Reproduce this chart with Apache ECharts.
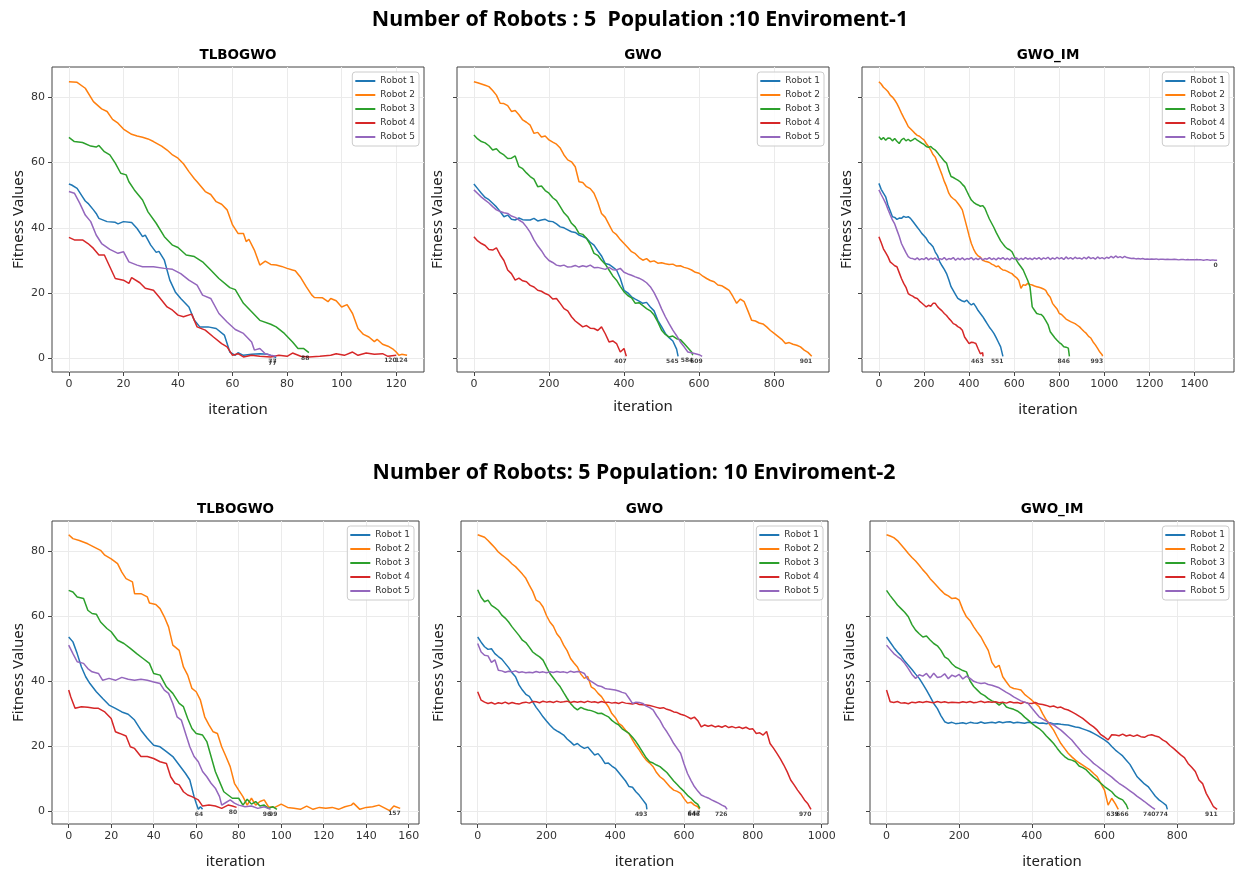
<!DOCTYPE html>
<html>
<head>
<meta charset="utf-8">
<title>Fitness Values</title>
<script src="https://cdn.jsdelivr.net/npm/echarts@6/dist/echarts.min.js"></script>
<style>html,body{margin:0;background:#fff}#main{width:1236px;height:872px}</style>
</head>
<body>
<div id="main"></div>
<script>
var robots = ['Robot 1', 'Robot 2', 'Robot 3', 'Robot 4', 'Robot 5'];
var colors = ['#1f77b4', '#ff7f0e', '#2ca02c', '#d62728', '#9467bd'];
var yTicks = [0, 20, 40, 60, 80];

// Enviroment-1 / TLBOGWO  [iteration, fitness]
var e1TlboR1 = [[0,53.4],[1,53.1],[3,52.1],[5,49.5],[6,48.2],[7,47.5],[9,45.5],[10,44.4],[11,42.9],[14,41.9],[17,41.7],[18,41.2],[20,41.9],[23,41.6],[25,39.8],[27,37.3],[28,37.8],[30,34.7],[32,32.5],[33,32.8],[35,30.1],[37,24],[39,20.4],[41,18.4],[44,15.8],[46,11.7],[48,9.7],[51,9.7],[54,9.2],[57,7.2],[59,2],[61,1],[62,1.8],[64,1],[67,1.3],[70,1.5],[73,1.3],[76,0.3]];
var e1TlboR2 = [[0,84.7],[3,84.5],[6,82.7],[9,78.6],[12,76.4],[14,75.6],[16,73.2],[18,72],[20,70.2],[23,68.6],[25,68.1],[27,67.7],[29,67.2],[31,66.4],[34,65],[36,63.8],[38,62.3],[40,61.3],[42,59.6],[44,57.2],[46,55],[47,54.1],[50,51.1],[52,50.2],[54,48],[56,47.2],[58,45.5],[60,40.9],[62,38.3],[64,38.3],[65,35.8],[66,36.5],[68,33.2],[70,28.6],[72,29.8],[74,28.8],[76,28.6],[78,28.2],[80,27.6],[82,27.1],[83,26.9],[85,24.8],[87,22],[89,19.5],[90,18.7],[93,18.6],[95,17.4],[96,18.4],[98,17.7],[100,15.8],[102,16.5],[104,13.8],[106,9.2],[108,7.4],[110,6.6],[112,5.2],[113,5.9],[115,4.4],[117,3.8],[119,2.8],[120,2],[121,1],[122,1.3],[124,1]];
var e1TlboR3 = [[0,67.7],[2,66.4],[5,66.1],[8,65],[10,64.7],[11,65.2],[13,63.3],[15,62.3],[17,59.8],[19,56.7],[21,56.2],[22,54.1],[24,51.6],[27,48.5],[29,44.9],[32,41.4],[35,37.3],[38,34.7],[40,34],[43,31.7],[46,31.2],[49,29.6],[52,27.1],[55,24.5],[59,21.7],[61,21.1],[64,16.9],[67,14.3],[70,11.7],[74,10.5],[76,9.7],[79,7.7],[82,5.1],[84,3.1],[86,3.1],[88,1.8]];
var e1TlboR4 = [[0,37.1],[2,36.3],[5,36.3],[7,35.2],[9,33.7],[11,31.7],[13,31.7],[15,28.1],[17,24.5],[20,24],[22,23],[23,24.8],[26,23.2],[28,21.5],[31,20.9],[33,18.9],[36,15.8],[38,14.8],[40,13.3],[42,12.8],[45,13.6],[47,9.7],[50,8.7],[53,6.6],[56,4.6],[58,3.6],[60,1],[62,1.5],[64,0.5],[67,1],[70,0.7],[74,0.5],[77,1],[80,0.7],[82,1.7],[85,0.7],[88,0.5],[92,0.7],[96,1],[98,1.5],[101,1],[104,2],[106,1],[109,1.7],[112,1.3],[115,1.5],[117,0.7],[120,1]];
var e1TlboR5 = [[0,51.1],[2,50.6],[4,47.5],[6,43.9],[8,41.9],[10,37.8],[12,35.2],[15,33.4],[18,32.2],[20,32.7],[22,29.6],[25,28.6],[27,28.1],[31,28.1],[35,27.6],[38,27.3],[41,26],[44,24],[47,22.5],[49,19.4],[52,18.4],[55,13.8],[58,11.2],[61,8.9],[64,7.7],[67,5.1],[68,2.6],[70,3.1],[72,1.5],[74,1],[76,0.7]];
var e1TlboEnds = [77, 124, 88, 120, 77];

// Enviroment-1 / GWO  (fitness every 10 iterations, last value at the last iteration)
var e1GwoR1 = [53.4,52.0,50.6,49.3,48.6,47.5,46.4,45.0,43.4,43.9, 42.6,42.4,43.0,42.5,42.4,42.4,42.9,42.1,42.4,42.6, 42.0,41.9,41.2,40.3,40.0,39.4,38.8,38.6,37.8,37.3, 36.8,35.6,34.7,33.0,31.4,29.1,28.8,28.0,27.1,24.5, 20.9,20.1,18.9,18.2,17.6,16.9,17.2,15.8,14.6,11.7, 9.8,7.7,6.4,5.4,2.9,0.7];
var e1GwoR2 = [84.7,84.4,84.0,83.6,83.2,82.0,80.6,78.1,78.0,77.4, 75.6,75.9,74.6,73.0,72.3,71.4,68.9,69.2,67.8,68.1, 66.9,66.2,65.6,64.4,62.3,60.8,60.2,58.7,54.1,53.9, 52.6,52.0,50.6,47.8,44.4,43.2,41.0,38.8,37.9,36.4, 35.2,34.0,32.7,32.1,30.9,30.1,30.6,29.6,29.9,29.2, 29.3,29.0,28.8,28.9,28.3,28.4,27.9,27.6,27.1,26.4, 26.1,25.2,24.5,23.9,23.5,22.5,22.3,21.6,20.9,19.0, 16.9,18.2,17.4,14.6,11.7,11.5,10.9,10.6,9.7,8.6, 7.7,6.8,5.9,4.6,4.9,4.4,4.1,3.6,2.6,1.9, 0.7];
var e1GwoR3 = [68.4,67.2,66.4,66.0,65.1,63.8,64.2,63.0,62.3,61.2, 61.3,62.0,58.7,58.1,56.8,55.7,54.9,52.6,52.8,51.4, 50.6,49.2,48.3,46.5,44.6,43.4,41.4,40.3,38.3,38.0, 36.8,34.9,32.2,31.6,30.1,28.9,27.1,25.3,24.0,22.1, 20.4,19.3,18.6,16.9,17.1,16.2,15.3,14.6,13.3,11.2, 8.7,7.4,6.6,6.9,6.1,5.8,4.6,3.3,2.0,1.0];
var e1GwoR4 = [37.3,36.0,35.2,34.6,33.4,33.2,33.9,31.7,30.0,27.1, 26.0,24.0,24.6,23.8,23.5,22.4,21.9,20.9,20.6,19.9, 19.4,18.2,18.4,16.9,15.3,14.6,12.8,11.5,10.6,9.7, 10.1,9.3,9.2,8.6,9.7,7.6,5.1,5.4,4.6,2.0, 3.1,0.7];
var e1GwoR5 = [51.6,50.5,49.4,48.5,47.6,46.5,45.5,45.0,44.6,44.4, 43.6,43.2,42.4,41.7,40.3,38.6,36.3,34.5,33.0,31.2, 30.0,29.4,28.6,28.3,28.6,28.0,28.1,28.5,28.0,28.4, 28.1,28.6,27.8,27.9,27.6,27.3,27.9,27.2,27.1,27.6, 26.4,25.9,25.5,25.0,24.6,24.0,23.2,22.0,20.2,17.9, 15.2,12.8,10.7,8.7,7.0,5.1,3.6,2.0,1.8,1.5, 1.2,0.7];
var e1GwoLast = [544, 900, 583, 406, 608];
var e1GwoEnds = [545, 901, 584, 407, 609];

// Enviroment-1 / GWO_IM
var e1ImR1 = [53.6,51.8,50.6,49.5,47.0,45.2,43.4,43.2,42.6,43.0, 42.9,43.5,43.2,43.4,42.9,42.0,41.1,40.2,39.3,38.3, 37.6,36.8,35.6,35.0,34.2,32.6,31.5,29.6,28.4,27.3, 26.0,24.1,22.0,20.8,19.6,18.4,18.0,17.6,17.4,17.9, 17.0,16.4,16.9,15.9,14.7,13.8,12.9,11.8,10.7,9.6, 8.7,7.7,6.4,5.0,3.6,0.7];
var e1ImR2 = [84.7,84.0,83.0,82.4,81.7,80.6,80.0,79.1,78.0,76.6, 75.1,73.7,72.4,71.0,70.3,69.6,68.9,68.3,68.0,67.4, 66.9,65.8,64.9,63.8,62.4,61.6,59.8,58.0,56.2,54.2, 52.6,50.6,49.5,48.9,48.4,47.5,46.6,45.5,42.9,40.3, 37.6,35.2,33.5,32.2,31.4,31.0,30.1,29.8,29.6,29.4, 28.9,28.6,28.1,28.3,27.6,27.1,27.0,26.7,26.3,26.0, 25.3,24.8,24.0,21.5,22.6,22.4,23.0,22.7,22.5,22.2, 22.0,21.8,21.6,21.3,20.9,19.6,18.8,16.9,16.0,15.2, 13.8,13.5,12.8,12.1,11.7,11.3,11.0,10.7,10.2,9.7, 9.0,8.3,7.7,6.8,6.3,5.1,4.2,3.1,2.0,1.2, 0.7];
var e1ImR3 = [67.9,67.0,67.6,66.8,67.5,67.4,66.6,67.3,66.5,65.8, 66.9,67.4,66.6,67.1,66.5,66.9,67.4,66.8,66.4,65.9, 65.5,64.9,64.6,64.9,64.2,63.8,63.0,62.1,61.3,60.4, 59.8,57.5,55.7,55.4,55.0,54.6,54.1,53.3,52.6,51.2, 49.8,48.5,47.8,47.3,47.0,46.6,46.8,46.0,44.3,42.7, 41.4,40.1,38.6,37.3,36.0,35.1,34.2,33.6,33.3,32.7, 31.3,30.1,29.0,28.1,27.1,25.5,23.9,22.0,15.8,14.8, 13.8,13.6,13.5,12.8,11.6,10.4,8.2,7.3,6.4,5.6, 4.9,4.4,3.6,3.5,3.2,0.7];
var e1ImR4 = [37.3,35.5,33.6,32.4,31.2,29.6,29.0,28.4,28.1,26.3, 24.5,23.0,21.8,19.9,19.4,19.1,18.6,18.4,17.6,17.0, 16.4,15.8,16.3,16.0,16.9,16.9,15.9,15.2,14.6,13.8, 13.2,12.3,11.6,10.7,10.4,9.8,9.4,8.7,6.6,5.6, 4.6,5.0,4.9,4.6,3.0,1.5,1.8,0.7];
var e1ImR5 = [51.6,50.2,48.9,47.5,45.7,44.0,42.4,41.2,39.3,37.4, 35.2,33.8,32.4,31.2,30.7,30.6,30.3,30.8,30.2,30.6, 30.3,30.9,30.2,30.7,30.4,30.8,30.1,30.6,30.3,30.9, 30.2,30.6,30.4,30.9,30.1,30.7,30.3,30.8,30.2,30.6, 30.4,30.9,30.2,30.7,30.3,30.8,30.2,30.6,30.4,30.9, 30.3,30.7,30.2,30.8,30.4,30.9,30.3,30.7,30.2,30.8, 30.4,30.8,30.2,30.7,30.3,30.9,30.4,30.7,30.3,30.8, 30.4,30.9,30.3,30.8,30.5,31.0,30.3,30.8,30.4,31.0, 30.5,30.9,30.3,31.1,30.5,30.9,30.4,31.0,30.6,30.8, 30.4,31.0,30.5,31.1,30.6,30.9,30.4,31.1,30.6,30.9, 30.5,31.0,30.7,31.3,30.8,31.4,30.9,31.2,30.8,31.3, 30.9,30.8,30.6,30.7,30.5,30.6,30.5,30.6,30.4,30.5, 30.4,30.5,30.4,30.5,30.3,30.4,30.4,30.3,30.4,30.3, 30.3,30.4,30.3,30.2,30.3,30.3,30.2,30.3,30.2,30.2, 30.2,30.3,30.2,30.2,30.1,30.2,30.2,30.1,30.2,30.1, 30.1];
var e1ImLast = [550, 992, 845, 462, 1500];
var e1ImEnds = [551, 993, 846, 463, 0];

// Enviroment-2 / TLBOGWO  [iteration, fitness]
var e2TlboR1 = [[0,53.6],[2,52.1],[4,48.5],[6,44.4],[8,41.4],[10,39.3],[13,36.8],[16,34.7],[19,32.7],[22,31.7],[25,30.6],[28,29.9],[31,28.1],[34,25],[37,22.5],[40,20.4],[43,19.9],[46,18.4],[49,16.9],[52,14.3],[55,11.7],[57,9.7],[59,4.6],[60,2.6],[61,0.7],[62,1.5],[63,0.7]];
var e2TlboR2 = [[0,85],[2,83.8],[5,83.2],[9,82.2],[12,81.2],[15,80.2],[17,78.7],[20,77.6],[23,76.1],[25,73.5],[27,71.5],[30,70.5],[31,66.9],[34,66.9],[37,65.9],[38,64],[41,63.6],[43,62.3],[45,59.8],[47,56.7],[49,51.1],[52,49.5],[54,44.4],[56,41.9],[58,37.8],[60,36.8],[62,34.2],[64,29.1],[66,26.6],[68,24.5],[70,24],[72,19.9],[74,16.9],[76,13.8],[78,8.7],[80,6.6],[82,4.6],[84,2],[86,4.1],[88,2],[90,3.1],[92,3.6],[94,1.5],[97,1.3],[100,2.3],[103,1.3],[106,1],[109,0.7],[112,1.7],[115,0.7],[118,1.3],[121,1],[124,1.3],[127,0.7],[130,1.5],[133,2],[134,2.6],[137,0.7],[140,1.3],[143,1.5],[146,2],[149,1],[151,0.3],[153,1.7],[156,1]];
var e2TlboR3 = [[0,67.9],[2,67.4],[4,65.9],[7,65.4],[9,61.8],[11,60.8],[13,60.6],[15,58.2],[18,56.2],[20,55.2],[23,52.6],[26,51.6],[29,50.1],[32,48.5],[35,47],[38,45.5],[40,42.4],[43,41.9],[46,38.3],[49,36.3],[52,33.2],[54,32.2],[56,28.6],[58,25.5],[60,24],[63,23.5],[65,21.5],[67,16.9],[69,12.3],[71,9.2],[73,6.1],[75,5.1],[77,4.1],[80,4.1],[82,2],[84,3.8],[86,2.3],[88,3.1],[90,1.7],[92,2],[94,1],[96,1.5],[98,0.7]];
var e2TlboR4 = [[0,37.3],[1,35.2],[3,31.7],[6,32.2],[9,32],[12,31.7],[14,31.7],[17,30.6],[20,28.6],[22,24.5],[24,24],[27,23.2],[29,19.9],[31,19.4],[34,16.9],[37,16.9],[40,16.3],[43,15.3],[46,14.8],[48,10.7],[50,8.7],[52,8.2],[54,6.1],[56,5.1],[58,4.6],[61,3.6],[63,1.7],[66,2],[69,1.7],[72,1],[75,2],[77,1.7],[79,1.3]];
var e2TlboR5 = [[0,51.1],[2,48.5],[4,46],[7,45.5],[9,43.9],[11,42.9],[14,42.4],[16,40.3],[19,40.9],[22,40.3],[25,41.2],[28,40.6],[31,40.3],[34,40.6],[37,40.3],[40,39.8],[43,39.3],[45,37.3],[47,36.3],[49,33.2],[51,29.1],[53,28.1],[55,24],[57,19.9],[59,16.9],[61,15.3],[63,12.3],[65,10.7],[67,8.7],[69,7.2],[71,4.6],[72,2],[74,2.8],[76,3.6],[78,2.6],[80,2],[83,1.5],[86,1.7],[89,1],[92,1.5],[95,0.7]];
var e2TlboEnds = [64, 157, 99, 80, 96];

// Enviroment-2 / GWO  (fitness every 10 iterations, last value at the last iteration)
var e2GwoR1 = [53.6,52.0,50.6,49.8,50.0,48.5,47.6,46.8,45.5,44.2, 42.6,41.4,38.9,37.3,36.0,35.4,33.7,32.0,30.6,29.1, 27.8,26.6,25.5,24.8,24.2,23.5,22.3,21.4,20.4,20.9, 20.0,19.4,19.8,18.6,17.4,17.8,16.5,14.8,14.9,14.0, 13.3,12.0,10.7,9.4,7.7,7.5,6.1,5.0,3.6,2.2, 0.7];
var e2GwoR2 = [85.0,84.6,84.2,83.2,82.1,81.0,79.7,78.8,78.0,77.1, 76.0,75.2,74.1,72.9,71.6,69.5,67.6,64.9,64.3,62.8, 60.2,58.2,56.9,54.6,53.3,51.1,49.4,47.0,45.6,44.4, 42.2,40.9,41.5,38.3,37.6,36.3,35.3,33.7,32.2,30.1, 28.9,27.1,26.3,25.0,23.9,22.0,20.3,18.9,17.2,15.8, 14.9,13.8,12.0,10.7,9.9,8.7,7.5,6.6,6.2,5.6, 4.0,2.6,2.9,2.0,1.5,0.7];
var e2GwoR3 = [68.1,65.8,64.4,64.9,63.3,62.6,61.8,60.3,59.4,58.2, 56.7,55.4,54.1,52.6,51.9,50.5,49.0,48.2,47.5,46.5, 44.4,42.4,41.0,39.6,38.3,36.5,34.8,33.2,32.0,31.2, 32.0,31.5,31.2,31.0,30.6,30.1,30.2,29.6,29.1,28.0, 27.2,26.6,25.4,24.7,24.0,22.8,21.5,19.9,18.2,16.5, 15.3,14.9,14.3,13.8,12.9,12.0,10.7,9.4,8.3,7.2, 6.2,5.0,4.1,3.0,2.2,1.0];
var e2GwoR4 = [36.8,34.2,33.6,33.2,33.5,33.0,33.4,33.2,33.6,33.1, 33.5,33.2,33.0,33.4,33.6,33.3,33.8,33.7,33.4,33.9, 33.6,33.8,33.5,33.9,33.6,33.7,33.9,33.5,33.8,33.6, 33.8,33.5,33.9,33.6,33.7,33.4,33.8,33.5,33.6,33.3, 33.5,33.2,33.6,33.3,33.2,33.0,33.3,32.9,32.8,32.7, 32.6,32.3,32.0,31.7,31.9,31.4,31.1,30.6,30.4,29.9, 29.6,29.1,28.5,29.0,27.9,26.0,26.6,26.2,26.5,26.0, 26.3,25.9,26.4,25.8,26.1,25.7,26.0,25.5,25.9,25.3, 25.4,24.0,24.2,23.5,24.6,20.9,19.5,17.9,16.2,14.3, 12.2,9.7,8.2,6.6,5.2,3.6,2.4,0.7];
var e2GwoR5 = [51.6,49.0,48.0,47.8,45.8,46.6,43.4,43.2,42.8,43.1, 42.9,43.2,42.7,42.9,42.6,42.8,42.6,43.0,42.7,42.9, 42.6,42.9,42.7,43.0,42.8,42.9,42.6,43.1,42.8,43.0, 42.9,42.4,40.6,40.0,39.3,38.6,38.4,37.8,37.6,37.5, 37.3,37.0,36.6,36.3,34.8,33.2,33.6,33.5,33.2,32.4, 31.9,31.2,29.5,28.0,26.0,24.5,22.8,20.9,19.4,17.9, 14.6,11.7,9.6,7.7,6.3,5.1,4.6,4.2,3.6,3.1, 2.6,2.0,1.5,0.7];
var e2GwoLast = [492, 645, 646, 969, 725];
var e2GwoEnds = [493, 646, 647, 970, 726];

// Enviroment-2 / GWO_IM
var e2ImR1 = [53.6,52.0,50.4,49.0,47.8,46.2,44.9,43.6,42.2,40.9, 39.1,37.3,35.3,33.2,31.6,29.4,27.6,27.1,27.4,27.0, 27.1,27.3,27.0,27.4,27.2,27.1,27.5,27.1,27.3,27.4, 27.2,27.6,27.3,27.5,27.6,27.2,27.4,27.3,27.1,27.4, 27.3,27.4,27.1,27.2,27.0,27.3,26.9,27.0,26.8,26.7, 26.6,26.3,26.0,25.8,25.4,25.0,24.6,24.0,23.4,22.7, 22.0,21.2,20.0,18.9,18.0,17.1,15.8,14.5,12.6,10.7, 9.6,8.5,7.7,6.2,4.7,3.6,2.8,1.9,0.7];
var e2ImR2 = [85.0,84.6,84.1,83.2,81.9,80.6,79.2,78.0,76.9,75.6, 74.2,73.0,71.5,70.3,69.1,67.9,66.8,66.2,65.4,65.6, 64.9,62.0,59.8,58.6,56.7,55.1,53.6,51.5,49.5,45.8, 44.2,44.9,41.4,39.8,38.3,37.8,37.6,37.3,36.0,35.1, 34.2,33.2,32.2,30.0,28.1,26.6,25.0,22.9,20.9,19.4, 17.9,16.8,15.8,15.0,14.3,13.5,12.8,11.7,10.7,8.6, 6.6,2.0,4.1,2.4,0.7];
var e2ImR3 = [67.9,66.3,64.9,63.4,62.3,61.2,59.8,57.4,55.7,54.6, 53.6,53.9,52.7,51.6,50.9,49.5,47.5,46.8,45.4,44.4, 43.9,43.3,42.9,40.1,38.4,37.3,36.2,35.6,34.7,34.0, 33.6,32.7,33.5,32.1,31.7,31.4,30.9,30.1,29.0,28.1, 27.1,26.2,25.5,24.5,23.2,22.1,20.9,19.4,18.0,16.9, 16.1,15.8,15.3,14.0,13.5,12.8,11.6,10.6,9.7,8.7, 7.7,6.9,6.1,4.8,4.1,3.6,2.1,0.7];
var e2ImR4 = [37.3,33.7,33.5,33.8,33.3,33.4,33.1,33.6,33.4,33.7, 33.5,33.8,33.6,33.4,33.8,33.5,33.7,33.4,33.6,33.5, 33.4,33.7,33.5,33.8,33.4,33.6,33.9,33.5,33.7,33.6, 33.7,33.4,33.6,33.3,33.7,33.4,33.5,33.2,33.6,33.3, 33.2,33.5,33.0,32.9,32.6,32.2,32.4,31.9,32.1,31.5, 31.2,30.6,30.0,29.3,28.6,27.7,26.8,26.0,25.0,23.6, 22.9,22.0,23.6,23.5,23.3,23.8,23.2,23.5,23.1,23.5, 23.0,22.8,23.4,23.6,23.2,22.9,22.0,21.4,20.3,19.4, 18.4,17.4,16.6,14.8,13.6,12.3,9.7,8.6,5.6,3.6, 1.5,0.7];
var e2ImR5 = [51.1,49.8,48.5,47.6,46.8,45.5,43.9,42.1,40.9,42.0, 41.6,42.4,41.0,42.5,41.2,41.4,42.3,40.8,41.9,41.4, 42.1,40.7,41.6,40.9,40.0,39.6,39.3,39.5,39.0,38.8, 38.4,38.0,37.3,36.6,36.0,35.2,34.6,34.0,33.6,33.2, 31.8,30.4,29.1,28.4,27.8,27.1,26.6,25.8,25.0,24.0, 23.0,22.0,20.6,19.3,17.9,16.9,15.9,14.8,14.0,13.1, 12.3,11.4,10.6,9.6,8.7,8.0,7.2,6.4,5.6,4.7, 3.9,3.1,2.2,1.4,0.7];
var e2ImLast = [773, 638, 665, 910, 739];
var e2ImEnds = [774, 639, 666, 911, 740];

// y values sampled every `step` iterations -> [iteration, fitness] pairs
function stepped(ys, last, step) {
  return ys.map(function (y, i) {
    return [i === ys.length - 1 ? last : i * step, y];
  });
}
function panelLines(list, lastList) {
  return list.map(function (d, i) {
    return lastList ? stepped(d, lastList[i], 10) : d;
  });
}

var panels = [
  {title: 'TLBOGWO', left: 52, top: 67, width: 372, height: 305, xMin: -6.2, xMax: 130.2, xTicks: [0, 20, 40, 60, 80, 100, 120], yMin: -4.1, yMax: 89.2, yLabels: true, yGap: 26, xGap: 30,
   lines: panelLines([e1TlboR1, e1TlboR2, e1TlboR3, e1TlboR4, e1TlboR5]), ends: e1TlboEnds},
  {title: 'GWO', left: 457, top: 67, width: 372, height: 305, xMin: -45, xMax: 946, xTicks: [0, 200, 400, 600, 800], yMin: -4.1, yMax: 89.2, yLabels: false, yGap: 12, xGap: 27,
   lines: panelLines([e1GwoR1, e1GwoR2, e1GwoR3, e1GwoR4, e1GwoR5], e1GwoLast), ends: e1GwoEnds},
  {title: 'GWO_IM', left: 862, top: 67, width: 372, height: 305, xMin: -75, xMax: 1575, xTicks: [0, 200, 400, 600, 800, 1000, 1200, 1400], yMin: -4.1, yMax: 89.2, yLabels: false, yGap: 8, xGap: 30,
   lines: panelLines([e1ImR1, e1ImR2, e1ImR3, e1ImR4, e1ImR5], e1ImLast), ends: e1ImEnds},
  {title: 'TLBOGWO', left: 52, top: 521, width: 367, height: 303, xMin: -7.85, xMax: 164.85, xTicks: [0, 20, 40, 60, 80, 100, 120, 140, 160], yMin: -3.8, yMax: 89.2, yLabels: true, yGap: 26, xGap: 30,
   lines: panelLines([e2TlboR1, e2TlboR2, e2TlboR3, e2TlboR4, e2TlboR5]), ends: e2TlboEnds},
  {title: 'GWO', left: 461, top: 521, width: 367, height: 303, xMin: -48.5, xMax: 1018.5, xTicks: [0, 200, 400, 600, 800, 1000], yMin: -3.8, yMax: 89.2, yLabels: false, yGap: 15, xGap: 30,
   lines: panelLines([e2GwoR1, e2GwoR2, e2GwoR3, e2GwoR4, e2GwoR5], e2GwoLast), ends: e2GwoEnds},
  {title: 'GWO_IM', left: 870, top: 521, width: 364, height: 303, xMin: -45.5, xMax: 956.5, xTicks: [0, 200, 400, 600, 800], yMin: -3.8, yMax: 89.2, yLabels: false, yGap: 13, xGap: 30,
   lines: panelLines([e2ImR1, e2ImR2, e2ImR3, e2ImR4, e2ImR5], e2ImLast), ends: e2ImEnds}
];

var chart = echarts.init(document.getElementById('main'));
var W = 1236;
var tickFont = 'DejaVu Sans';
var option = {
  animation: false,
  backgroundColor: '#ffffff',
  title: [
    {text: 'Number of Robots : 5  Population :10 Enviroment-1', left: 640, top: 9, textAlign: 'center', padding: 0,
     textStyle: {fontFamily: 'Noto Sans', fontWeight: 'bold', fontSize: 21.4, color: '#000'}},
    {text: 'Number of Robots: 5 Population: 10 Enviroment-2', left: 634, top: 462, textAlign: 'center', padding: 0,
     textStyle: {fontFamily: 'Noto Sans', fontWeight: 'bold', fontSize: 21.3, color: '#000'}}
  ],
  grid: [], xAxis: [], yAxis: [], legend: [], series: []
};

panels.forEach(function (p, k) {
  option.title.push({text: p.title, left: p.left + p.width / 2, top: p.top - 19, textAlign: 'center', padding: 0,
    textStyle: {fontFamily: tickFont, fontWeight: 'bold', fontSize: 13.5, color: '#000'}});
  option.grid.push({left: p.left, top: p.top, width: p.width, height: p.height, show: true,
    borderColor: '#444', borderWidth: 1, backgroundColor: 'transparent'});
  option.xAxis.push({
    type: 'value', gridIndex: k, min: p.xMin, max: p.xMax,
    name: 'iteration', nameLocation: 'middle', nameGap: p.xGap,
    nameTextStyle: {fontFamily: 'Noto Sans', fontSize: 15, color: '#222'},
    axisLine: {show: false, onZero: false},
    axisTick: {show: true, length: 4, lineStyle: {color: '#444'}, customValues: p.xTicks},
    axisLabel: {fontFamily: tickFont, fontSize: 11, color: '#333', margin: 7, customValues: p.xTicks,
      formatter: function (v) { return String(v); }},
    splitLine: {show: true, lineStyle: {color: '#ebebeb', width: 1}}
  });
  option.yAxis.push({
    type: 'value', gridIndex: k, min: p.yMin, max: p.yMax,
    name: 'Fitness Values', nameLocation: 'middle', nameGap: p.yGap,
    nameTextStyle: {fontFamily: 'Noto Sans', fontSize: 15, color: '#222'},
    axisLine: {show: false, onZero: false},
    axisTick: {show: true, length: 4, lineStyle: {color: '#444'}, customValues: yTicks},
    axisLabel: {show: p.yLabels, fontFamily: tickFont, fontSize: 11, color: '#333', margin: 7, customValues: yTicks,
      formatter: function (v) { return String(v); }},
    splitLine: {show: true, lineStyle: {color: '#ebebeb', width: 1}}
  });
  option.legend.push({
    data: robots, orient: 'vertical', right: W - (p.left + p.width) + 5, top: p.top + 5,
    icon: 'rect', itemWidth: 20, itemHeight: 2, itemGap: 4,
    padding: [4, 4, 4, 3], borderColor: '#cccccc', borderWidth: 1, borderRadius: 3,
    backgroundColor: 'rgba(255,255,255,0.85)',
    textStyle: {fontFamily: tickFont, fontSize: 9, color: '#333', lineHeight: 10}
  });
  p.lines.forEach(function (d, i) {
    option.series.push({
      type: 'line', name: robots[i], xAxisIndex: k, yAxisIndex: k, data: d,
      showSymbol: false, symbol: 'none', lineStyle: {width: 1.5, color: colors[i]},
      itemStyle: {color: colors[i]}, z: 2
    });
  });
  option.series.push({
    type: 'scatter', xAxisIndex: k, yAxisIndex: k, symbolSize: 1, silent: true, z: 5,
    itemStyle: {color: 'rgba(0,0,0,0)'},
    label: {show: true, position: [0, 0], align: 'right', verticalAlign: 'middle', offset: [1, 6],
      fontFamily: tickFont, fontSize: 6, fontWeight: 'bold', color: '#111'},
    data: p.lines.map(function (d, i) {
      var last = d[d.length - 1];
      return {value: [last[0], last[1]], label: {formatter: String(p.ends[i])}};
    })
  });
});

chart.setOption(option);
</script>
</body>
</html>
